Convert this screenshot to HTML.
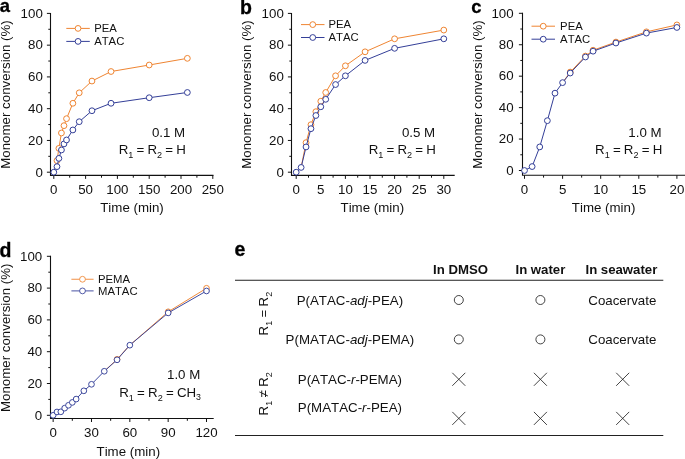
<!DOCTYPE html>
<html lang="en">
<head>
<meta charset="utf-8">
<title>Monomer conversion kinetics</title>
<style>
html,body{margin:0;padding:0;background:#fff;}
svg{display:block;font-kerning:none;font-family:"Liberation Sans",Arial,Helvetica,sans-serif;fill:#111;}
.pl{stroke:#000;stroke-width:0.3px;fill:#000}
</style>
</head>
<body>
<svg width="685" height="459" viewBox="0 0 685 459">
<rect width="685" height="459" fill="#fff" stroke="none"/>
<path d="M50.5 12.9V175.4H213.5" fill="none" stroke="#111" stroke-width="1.1"/>
<path d="M46.90 172.20H50.5M48.30 156.32H50.5M46.90 140.44H50.5M48.30 124.56H50.5M46.90 108.68H50.5M48.30 92.80H50.5M46.90 76.92H50.5M48.30 61.04H50.5M46.90 45.16H50.5M48.30 29.28H50.5M46.90 13.40H50.5M53.80 175.4v3.5M85.60 175.4v3.5M117.40 175.4v3.5M149.20 175.4v3.5M181.00 175.4v3.5M212.80 175.4v3.5M69.70 175.4v2.3M101.50 175.4v2.3M133.30 175.4v2.3M165.10 175.4v2.3M196.90 175.4v2.3" fill="none" stroke="#111" stroke-width="1"/>
<text x="42.80" y="176.50" text-anchor="end" font-size="13.3">0</text>
<text x="42.80" y="144.74" text-anchor="end" font-size="13.3">20</text>
<text x="42.80" y="112.98" text-anchor="end" font-size="13.3">40</text>
<text x="42.80" y="81.22" text-anchor="end" font-size="13.3">60</text>
<text x="42.80" y="49.46" text-anchor="end" font-size="13.3">80</text>
<text x="42.80" y="17.70" text-anchor="end" font-size="13.3">100</text>
<text x="53.80" y="193.50" text-anchor="middle" font-size="13.3">0</text>
<text x="85.60" y="193.50" text-anchor="middle" font-size="13.3">50</text>
<text x="117.40" y="193.50" text-anchor="middle" font-size="13.3">100</text>
<text x="149.20" y="193.50" text-anchor="middle" font-size="13.3">150</text>
<text x="181.00" y="193.50" text-anchor="middle" font-size="13.3">200</text>
<text x="212.80" y="193.50" text-anchor="middle" font-size="13.3">250</text>
<text x="132.00" y="211.90" text-anchor="middle" font-size="13.3">Time (min)</text>
<text transform="translate(10.00 94.50) rotate(-90)" text-anchor="middle" font-size="13.3">Monomer conversion (%)</text>
<path d="M53.80 172.20L56.98 160.61M56.98 160.61L58.89 148.38M58.89 148.38L61.43 132.98M61.43 132.98L63.98 125.67M63.98 125.67L66.52 118.68M66.52 118.68L72.88 103.28M72.88 103.28L79.24 92.80M79.24 92.80L91.96 81.05M91.96 81.05L111.04 71.52M111.04 71.52L149.20 65.01M149.20 65.01L187.36 58.34" fill="none" stroke="#EF8532" stroke-width="1.0" stroke-linecap="round"/>
<circle cx="56.98" cy="160.61" r="2.9" fill="#fff" stroke="#EF8532" stroke-width="1.0"/>
<circle cx="58.89" cy="148.38" r="2.9" fill="#fff" stroke="#EF8532" stroke-width="1.0"/>
<circle cx="61.43" cy="132.98" r="2.9" fill="#fff" stroke="#EF8532" stroke-width="1.0"/>
<circle cx="63.98" cy="125.67" r="2.9" fill="#fff" stroke="#EF8532" stroke-width="1.0"/>
<circle cx="66.52" cy="118.68" r="2.9" fill="#fff" stroke="#EF8532" stroke-width="1.0"/>
<circle cx="72.88" cy="103.28" r="2.9" fill="#fff" stroke="#EF8532" stroke-width="1.0"/>
<circle cx="79.24" cy="92.80" r="2.9" fill="#fff" stroke="#EF8532" stroke-width="1.0"/>
<circle cx="91.96" cy="81.05" r="2.9" fill="#fff" stroke="#EF8532" stroke-width="1.0"/>
<circle cx="111.04" cy="71.52" r="2.9" fill="#fff" stroke="#EF8532" stroke-width="1.0"/>
<circle cx="149.20" cy="65.01" r="2.9" fill="#fff" stroke="#EF8532" stroke-width="1.0"/>
<circle cx="187.36" cy="58.34" r="2.9" fill="#fff" stroke="#EF8532" stroke-width="1.0"/>
<path d="M53.80 172.20L56.98 166.64M56.98 166.64L58.89 158.38M58.89 158.38L61.43 149.97M61.43 149.97L63.98 143.93M63.98 143.93L66.52 139.96M66.52 139.96L72.88 129.96M72.88 129.96L79.24 121.70M79.24 121.70L91.96 110.74M91.96 110.74L111.04 103.28M111.04 103.28L149.20 97.72M149.20 97.72L187.36 92.48" fill="none" stroke="#343F98" stroke-width="1.0" stroke-linecap="round"/>
<circle cx="53.80" cy="172.20" r="2.9" fill="#fff" stroke="#343F98" stroke-width="1.0"/>
<circle cx="56.98" cy="166.64" r="2.9" fill="#fff" stroke="#343F98" stroke-width="1.0"/>
<circle cx="58.89" cy="158.38" r="2.9" fill="#fff" stroke="#343F98" stroke-width="1.0"/>
<circle cx="61.43" cy="149.97" r="2.9" fill="#fff" stroke="#343F98" stroke-width="1.0"/>
<circle cx="63.98" cy="143.93" r="2.9" fill="#fff" stroke="#343F98" stroke-width="1.0"/>
<circle cx="66.52" cy="139.96" r="2.9" fill="#fff" stroke="#343F98" stroke-width="1.0"/>
<circle cx="72.88" cy="129.96" r="2.9" fill="#fff" stroke="#343F98" stroke-width="1.0"/>
<circle cx="79.24" cy="121.70" r="2.9" fill="#fff" stroke="#343F98" stroke-width="1.0"/>
<circle cx="91.96" cy="110.74" r="2.9" fill="#fff" stroke="#343F98" stroke-width="1.0"/>
<circle cx="111.04" cy="103.28" r="2.9" fill="#fff" stroke="#343F98" stroke-width="1.0"/>
<circle cx="149.20" cy="97.72" r="2.9" fill="#fff" stroke="#343F98" stroke-width="1.0"/>
<circle cx="187.36" cy="92.48" r="2.9" fill="#fff" stroke="#343F98" stroke-width="1.0"/>
<path d="M66.3 28.4H89.8" stroke="#EF8532" stroke-width="1.0"/>
<circle cx="78.05" cy="28.4" r="2.9" fill="#fff" stroke="#EF8532" stroke-width="1.0"/>
<text x="94.2" y="32.20" font-size="11.3">PEA</text>
<path d="M66.3 41.4H89.8" stroke="#343F98" stroke-width="1.0"/>
<circle cx="78.05" cy="41.4" r="2.9" fill="#fff" stroke="#343F98" stroke-width="1.0"/>
<text x="94.2" y="45.20" font-size="11.3">ATAC</text>
<text x="185.20000000000002" y="136.6" text-anchor="end" font-size="13.3">0.1 M</text>
<text x="185.9" y="154.0" text-anchor="end" word-spacing="-0.5" font-size="13.3">R<tspan dy="3.8" font-size="9.1">1</tspan><tspan dy="-3.8"> = R</tspan><tspan dy="3.8" font-size="9.1">2</tspan><tspan dy="-3.8"> = H</tspan></text>
<text x="-0.2" y="12.2" font-size="18.4" font-weight="bold" class="pl">a</text>
<path d="M291.5 12.9V175.4H454.7" fill="none" stroke="#111" stroke-width="1.1"/>
<path d="M287.90 172.20H291.5M289.30 156.32H291.5M287.90 140.44H291.5M289.30 124.56H291.5M287.90 108.68H291.5M289.30 92.80H291.5M287.90 76.92H291.5M289.30 61.04H291.5M287.90 45.16H291.5M289.30 29.28H291.5M287.90 13.40H291.5M296.20 175.4v3.5M320.80 175.4v3.5M345.40 175.4v3.5M370.00 175.4v3.5M394.60 175.4v3.5M419.20 175.4v3.5M443.80 175.4v3.5M308.50 175.4v2.3M333.10 175.4v2.3M357.70 175.4v2.3M382.30 175.4v2.3M406.90 175.4v2.3M431.50 175.4v2.3" fill="none" stroke="#111" stroke-width="1"/>
<text x="283.80" y="176.50" text-anchor="end" font-size="13.3">0</text>
<text x="283.80" y="144.74" text-anchor="end" font-size="13.3">20</text>
<text x="283.80" y="112.98" text-anchor="end" font-size="13.3">40</text>
<text x="283.80" y="81.22" text-anchor="end" font-size="13.3">60</text>
<text x="283.80" y="49.46" text-anchor="end" font-size="13.3">80</text>
<text x="283.80" y="17.70" text-anchor="end" font-size="13.3">100</text>
<text x="296.20" y="193.50" text-anchor="middle" font-size="13.3">0</text>
<text x="320.80" y="193.50" text-anchor="middle" font-size="13.3">5</text>
<text x="345.40" y="193.50" text-anchor="middle" font-size="13.3">10</text>
<text x="370.00" y="193.50" text-anchor="middle" font-size="13.3">15</text>
<text x="394.60" y="193.50" text-anchor="middle" font-size="13.3">20</text>
<text x="419.20" y="193.50" text-anchor="middle" font-size="13.3">25</text>
<text x="443.80" y="193.50" text-anchor="middle" font-size="13.3">30</text>
<text x="372.30" y="211.90" text-anchor="middle" font-size="13.3">Time (min)</text>
<text transform="translate(250.60 94.50) rotate(-90)" text-anchor="middle" font-size="13.3">Monomer conversion (%)</text>
<path d="M301.12 167.44L306.04 142.66M306.04 142.66L310.96 124.72M310.96 124.72L315.88 111.70M315.88 111.70L320.80 101.22M320.80 101.22L325.72 92.48M325.72 92.48L335.56 75.81M335.56 75.81L345.40 65.80M345.40 65.80L365.08 51.83M365.08 51.83L394.60 38.81M394.60 38.81L443.80 30.07" fill="none" stroke="#EF8532" stroke-width="1.0" stroke-linecap="round"/>
<circle cx="306.04" cy="142.66" r="2.9" fill="#fff" stroke="#EF8532" stroke-width="1.0"/>
<circle cx="310.96" cy="124.72" r="2.9" fill="#fff" stroke="#EF8532" stroke-width="1.0"/>
<circle cx="315.88" cy="111.70" r="2.9" fill="#fff" stroke="#EF8532" stroke-width="1.0"/>
<circle cx="320.80" cy="101.22" r="2.9" fill="#fff" stroke="#EF8532" stroke-width="1.0"/>
<circle cx="325.72" cy="92.48" r="2.9" fill="#fff" stroke="#EF8532" stroke-width="1.0"/>
<circle cx="335.56" cy="75.81" r="2.9" fill="#fff" stroke="#EF8532" stroke-width="1.0"/>
<circle cx="345.40" cy="65.80" r="2.9" fill="#fff" stroke="#EF8532" stroke-width="1.0"/>
<circle cx="365.08" cy="51.83" r="2.9" fill="#fff" stroke="#EF8532" stroke-width="1.0"/>
<circle cx="394.60" cy="38.81" r="2.9" fill="#fff" stroke="#EF8532" stroke-width="1.0"/>
<circle cx="443.80" cy="30.07" r="2.9" fill="#fff" stroke="#EF8532" stroke-width="1.0"/>
<path d="M296.20 172.20L301.12 167.44M301.12 167.44L306.04 146.95M306.04 146.95L310.96 128.69M310.96 128.69L315.88 115.51M315.88 115.51L320.80 106.77M320.80 106.77L325.72 99.31M325.72 99.31L335.56 84.54M335.56 84.54L345.40 75.81M345.40 75.81L365.08 60.40M365.08 60.40L394.60 48.34M394.60 48.34L443.80 38.81" fill="none" stroke="#343F98" stroke-width="1.0" stroke-linecap="round"/>
<circle cx="296.20" cy="172.20" r="2.9" fill="#fff" stroke="#343F98" stroke-width="1.0"/>
<circle cx="301.12" cy="167.44" r="2.9" fill="#fff" stroke="#343F98" stroke-width="1.0"/>
<circle cx="306.04" cy="146.95" r="2.9" fill="#fff" stroke="#343F98" stroke-width="1.0"/>
<circle cx="310.96" cy="128.69" r="2.9" fill="#fff" stroke="#343F98" stroke-width="1.0"/>
<circle cx="315.88" cy="115.51" r="2.9" fill="#fff" stroke="#343F98" stroke-width="1.0"/>
<circle cx="320.80" cy="106.77" r="2.9" fill="#fff" stroke="#343F98" stroke-width="1.0"/>
<circle cx="325.72" cy="99.31" r="2.9" fill="#fff" stroke="#343F98" stroke-width="1.0"/>
<circle cx="335.56" cy="84.54" r="2.9" fill="#fff" stroke="#343F98" stroke-width="1.0"/>
<circle cx="345.40" cy="75.81" r="2.9" fill="#fff" stroke="#343F98" stroke-width="1.0"/>
<circle cx="365.08" cy="60.40" r="2.9" fill="#fff" stroke="#343F98" stroke-width="1.0"/>
<circle cx="394.60" cy="48.34" r="2.9" fill="#fff" stroke="#343F98" stroke-width="1.0"/>
<circle cx="443.80" cy="38.81" r="2.9" fill="#fff" stroke="#343F98" stroke-width="1.0"/>
<path d="M301 24.6H324.5" stroke="#EF8532" stroke-width="1.0"/>
<circle cx="312.75" cy="24.6" r="2.9" fill="#fff" stroke="#EF8532" stroke-width="1.0"/>
<text x="328.5" y="28.40" font-size="11.3">PEA</text>
<path d="M301 37.5H324.5" stroke="#343F98" stroke-width="1.0"/>
<circle cx="312.75" cy="37.5" r="2.9" fill="#fff" stroke="#343F98" stroke-width="1.0"/>
<text x="328.5" y="41.30" font-size="11.3">ATAC</text>
<text x="435.2" y="136.6" text-anchor="end" font-size="13.3">0.5 M</text>
<text x="435.9" y="154.0" text-anchor="end" word-spacing="-0.5" font-size="13.3">R<tspan dy="3.8" font-size="9.1">1</tspan><tspan dy="-3.8"> = R</tspan><tspan dy="3.8" font-size="9.1">2</tspan><tspan dy="-3.8"> = H</tspan></text>
<text x="240.1" y="13.8" font-size="19.5" font-weight="bold" class="pl">b</text>
<path d="M522.5 12.8V175.3H686.0" fill="none" stroke="#111" stroke-width="1.1"/>
<path d="M518.90 170.50H522.5M520.30 154.78H522.5M518.90 139.06H522.5M520.30 123.34H522.5M518.90 107.62H522.5M520.30 91.90H522.5M518.90 76.18H522.5M520.30 60.46H522.5M518.90 44.74H522.5M520.30 29.02H522.5M518.90 13.30H522.5M524.50 175.3v3.5M562.60 175.3v3.5M600.70 175.3v3.5M638.80 175.3v3.5M676.90 175.3v3.5M543.55 175.3v2.3M581.65 175.3v2.3M619.75 175.3v2.3M657.85 175.3v2.3" fill="none" stroke="#111" stroke-width="1"/>
<text x="513.60" y="174.80" text-anchor="end" font-size="13.3">0</text>
<text x="513.60" y="143.36" text-anchor="end" font-size="13.3">20</text>
<text x="513.60" y="111.92" text-anchor="end" font-size="13.3">40</text>
<text x="513.60" y="80.48" text-anchor="end" font-size="13.3">60</text>
<text x="513.60" y="49.04" text-anchor="end" font-size="13.3">80</text>
<text x="513.60" y="17.60" text-anchor="end" font-size="13.3">100</text>
<text x="524.50" y="193.50" text-anchor="middle" font-size="13.3">0</text>
<text x="562.60" y="193.50" text-anchor="middle" font-size="13.3">5</text>
<text x="600.70" y="193.50" text-anchor="middle" font-size="13.3">10</text>
<text x="638.80" y="193.50" text-anchor="middle" font-size="13.3">15</text>
<text x="676.90" y="193.50" text-anchor="middle" font-size="13.3">20</text>
<text x="603.60" y="211.90" text-anchor="middle" font-size="13.3">Time (min)</text>
<text transform="translate(481.70 94.50) rotate(-90)" text-anchor="middle" font-size="13.3">Monomer conversion (%)</text>
<path d="M562.60 82.63L570.22 72.09M570.22 72.09L585.46 56.06M585.46 56.06L593.08 50.24M593.08 50.24L615.94 42.07M615.94 42.07L646.42 31.85M646.42 31.85L676.90 24.93" fill="none" stroke="#EF8532" stroke-width="1.0" stroke-linecap="round"/>
<circle cx="570.22" cy="72.09" r="2.9" fill="#fff" stroke="#EF8532" stroke-width="1.0"/>
<circle cx="585.46" cy="56.06" r="2.9" fill="#fff" stroke="#EF8532" stroke-width="1.0"/>
<circle cx="593.08" cy="50.24" r="2.9" fill="#fff" stroke="#EF8532" stroke-width="1.0"/>
<circle cx="615.94" cy="42.07" r="2.9" fill="#fff" stroke="#EF8532" stroke-width="1.0"/>
<circle cx="646.42" cy="31.85" r="2.9" fill="#fff" stroke="#EF8532" stroke-width="1.0"/>
<circle cx="676.90" cy="24.93" r="2.9" fill="#fff" stroke="#EF8532" stroke-width="1.0"/>
<path d="M524.50 170.50L532.12 166.57M532.12 166.57L539.74 146.92M539.74 146.92L547.36 120.67M547.36 120.67L554.98 93.16M554.98 93.16L562.60 82.63M562.60 82.63L570.22 73.04M570.22 73.04L585.46 57.00M585.46 57.00L593.08 51.19M593.08 51.19L615.94 43.01M615.94 43.01L646.42 33.11M646.42 33.11L676.90 27.45" fill="none" stroke="#343F98" stroke-width="1.0" stroke-linecap="round"/>
<circle cx="524.50" cy="170.50" r="2.9" fill="#fff" stroke="#343F98" stroke-width="1.0"/>
<circle cx="532.12" cy="166.57" r="2.9" fill="#fff" stroke="#343F98" stroke-width="1.0"/>
<circle cx="539.74" cy="146.92" r="2.9" fill="#fff" stroke="#343F98" stroke-width="1.0"/>
<circle cx="547.36" cy="120.67" r="2.9" fill="#fff" stroke="#343F98" stroke-width="1.0"/>
<circle cx="554.98" cy="93.16" r="2.9" fill="#fff" stroke="#343F98" stroke-width="1.0"/>
<circle cx="562.60" cy="82.63" r="2.9" fill="#fff" stroke="#343F98" stroke-width="1.0"/>
<circle cx="570.22" cy="73.04" r="2.9" fill="#fff" stroke="#343F98" stroke-width="1.0"/>
<circle cx="585.46" cy="57.00" r="2.9" fill="#fff" stroke="#343F98" stroke-width="1.0"/>
<circle cx="593.08" cy="51.19" r="2.9" fill="#fff" stroke="#343F98" stroke-width="1.0"/>
<circle cx="615.94" cy="43.01" r="2.9" fill="#fff" stroke="#343F98" stroke-width="1.0"/>
<circle cx="646.42" cy="33.11" r="2.9" fill="#fff" stroke="#343F98" stroke-width="1.0"/>
<circle cx="676.90" cy="27.45" r="2.9" fill="#fff" stroke="#343F98" stroke-width="1.0"/>
<path d="M531.5 26.2H555" stroke="#EF8532" stroke-width="1.0"/>
<circle cx="543.25" cy="26.2" r="2.9" fill="#fff" stroke="#EF8532" stroke-width="1.0"/>
<text x="560.1" y="30.00" font-size="11.3">PEA</text>
<path d="M531.5 39.2H555" stroke="#343F98" stroke-width="1.0"/>
<circle cx="543.25" cy="39.2" r="2.9" fill="#fff" stroke="#343F98" stroke-width="1.0"/>
<text x="560.1" y="43.00" font-size="11.3">ATAC</text>
<text x="661.5999999999999" y="136.6" text-anchor="end" font-size="13.3">1.0 M</text>
<text x="662.3" y="153.8" text-anchor="end" word-spacing="-0.5" font-size="13.3">R<tspan dy="3.8" font-size="9.1">1</tspan><tspan dy="-3.8"> = R</tspan><tspan dy="3.8" font-size="9.1">2</tspan><tspan dy="-3.8"> = H</tspan></text>
<text x="471.3" y="13.1" font-size="18.4" font-weight="bold" class="pl">c</text>
<path d="M50.5 255.8V418.5H213.7" fill="none" stroke="#111" stroke-width="1.1"/>
<path d="M46.90 415.30H50.5M48.30 399.40H50.5M46.90 383.50H50.5M48.30 367.60H50.5M46.90 351.70H50.5M48.30 335.80H50.5M46.90 319.90H50.5M48.30 304.00H50.5M46.90 288.10H50.5M48.30 272.20H50.5M46.90 256.30H50.5M53.15 418.5v3.5M91.49 418.5v3.5M129.83 418.5v3.5M168.17 418.5v3.5M206.51 418.5v3.5M72.32 418.5v2.3M110.66 418.5v2.3M149.00 418.5v2.3M187.34 418.5v2.3" fill="none" stroke="#111" stroke-width="1"/>
<text x="42.20" y="419.60" text-anchor="end" font-size="13.3">0</text>
<text x="42.20" y="387.80" text-anchor="end" font-size="13.3">20</text>
<text x="42.20" y="356.00" text-anchor="end" font-size="13.3">40</text>
<text x="42.20" y="324.20" text-anchor="end" font-size="13.3">60</text>
<text x="42.20" y="292.40" text-anchor="end" font-size="13.3">80</text>
<text x="42.20" y="260.60" text-anchor="end" font-size="13.3">100</text>
<text x="53.15" y="436.70" text-anchor="middle" font-size="13.3">0</text>
<text x="91.49" y="436.70" text-anchor="middle" font-size="13.3">30</text>
<text x="129.83" y="436.70" text-anchor="middle" font-size="13.3">60</text>
<text x="168.17" y="436.70" text-anchor="middle" font-size="13.3">90</text>
<text x="206.51" y="436.70" text-anchor="middle" font-size="13.3">120</text>
<text x="128.30" y="455.60" text-anchor="middle" font-size="13.3">Time (min)</text>
<text transform="translate(10.00 337.80) rotate(-90)" text-anchor="middle" font-size="13.3">Monomer conversion (%)</text>
<path d="M104.27 371.26L117.05 359.33M117.05 359.33L129.83 345.18M129.83 345.18L168.17 311.79M168.17 311.79L206.51 288.26" fill="none" stroke="#EF8532" stroke-width="0.95" stroke-linecap="round"/>
<circle cx="117.05" cy="359.33" r="2.85" fill="#fff" stroke="#EF8532" stroke-width="0.95"/>
<circle cx="168.17" cy="311.79" r="2.85" fill="#fff" stroke="#EF8532" stroke-width="0.95"/>
<circle cx="206.51" cy="288.26" r="2.85" fill="#fff" stroke="#EF8532" stroke-width="0.95"/>
<path d="M53.15 415.30L56.98 411.96M56.98 411.96L60.82 411.80M60.82 411.80L64.65 408.15M64.65 408.15L68.49 405.28M68.49 405.28L72.32 402.42M72.32 402.42L76.15 399.08M76.15 399.08L83.82 390.81M83.82 390.81L91.49 384.30M91.49 384.30L104.27 371.26M104.27 371.26L117.05 359.81M117.05 359.81L129.83 345.18M129.83 345.18L168.17 312.90M168.17 312.90L206.51 290.96" fill="none" stroke="#343F98" stroke-width="0.95" stroke-linecap="round"/>
<circle cx="53.15" cy="415.30" r="2.85" fill="#fff" stroke="#343F98" stroke-width="0.95"/>
<circle cx="56.98" cy="411.96" r="2.85" fill="#fff" stroke="#343F98" stroke-width="0.95"/>
<circle cx="60.82" cy="411.80" r="2.85" fill="#fff" stroke="#343F98" stroke-width="0.95"/>
<circle cx="64.65" cy="408.15" r="2.85" fill="#fff" stroke="#343F98" stroke-width="0.95"/>
<circle cx="68.49" cy="405.28" r="2.85" fill="#fff" stroke="#343F98" stroke-width="0.95"/>
<circle cx="72.32" cy="402.42" r="2.85" fill="#fff" stroke="#343F98" stroke-width="0.95"/>
<circle cx="76.15" cy="399.08" r="2.85" fill="#fff" stroke="#343F98" stroke-width="0.95"/>
<circle cx="83.82" cy="390.81" r="2.85" fill="#fff" stroke="#343F98" stroke-width="0.95"/>
<circle cx="91.49" cy="384.30" r="2.85" fill="#fff" stroke="#343F98" stroke-width="0.95"/>
<circle cx="104.27" cy="371.26" r="2.85" fill="#fff" stroke="#343F98" stroke-width="0.95"/>
<circle cx="117.05" cy="359.81" r="2.85" fill="#fff" stroke="#343F98" stroke-width="0.95"/>
<circle cx="129.83" cy="345.18" r="2.85" fill="#fff" stroke="#343F98" stroke-width="0.95"/>
<circle cx="168.17" cy="312.90" r="2.85" fill="#fff" stroke="#343F98" stroke-width="0.95"/>
<circle cx="206.51" cy="290.96" r="2.85" fill="#fff" stroke="#343F98" stroke-width="0.95"/>
<path d="M71.4 279.25H93.6" stroke="#EF8532" stroke-width="0.9"/>
<circle cx="82.50" cy="279.25" r="2.9" fill="#fff" stroke="#EF8532" stroke-width="0.85"/>
<text x="98.0" y="283.05" font-size="11.3">PEMA</text>
<path d="M71.4 290.9H93.6" stroke="#343F98" stroke-width="0.9"/>
<circle cx="82.50" cy="290.9" r="2.9" fill="#fff" stroke="#343F98" stroke-width="0.85"/>
<text x="98.0" y="294.70" font-size="11.3">MATAC</text>
<text x="200.3" y="379" text-anchor="end" font-size="13.3">1.0 M</text>
<text x="201" y="397.3" text-anchor="end" word-spacing="-0.5" font-size="13.3">R<tspan dy="3.8" font-size="9.1">1</tspan><tspan dy="-3.8"> = R</tspan><tspan dy="3.8" font-size="9.1">2</tspan><tspan dy="-3.8"> = CH<tspan dy="3" font-size="8.8">3</tspan></tspan></text>
<text x="-0.5" y="256.5" font-size="19.5" font-weight="bold" class="pl">d</text>
<text x="234.4" y="256.4" font-size="19.5" font-weight="bold" class="pl">e</text>
<path d="M235 280.25H663.3M235 435.5H663.3" stroke="#222" stroke-width="1"/>
<text x="460.5" y="274" text-anchor="middle" font-size="13.2" font-weight="bold">In DMSO</text>
<text x="540.4" y="274" text-anchor="middle" font-size="13.2" font-weight="bold">In water</text>
<text x="621.4" y="274" text-anchor="middle" font-size="13.2" font-weight="bold">In seawater</text>
<text x="349.9" y="304.6" text-anchor="middle" font-size="13.3">P(ATAC-<tspan font-style="italic">adj</tspan>-PEA)</text>
<text x="349.9" y="344.2" text-anchor="middle" font-size="13.3">P(MATAC-<tspan font-style="italic">adj</tspan>-PEMA)</text>
<text x="349.9" y="383.9" text-anchor="middle" font-size="13.3">P(ATAC-<tspan font-style="italic">r</tspan>-PEMA)</text>
<text x="349.9" y="411.5" text-anchor="middle" font-size="13.3">P(MATAC-<tspan font-style="italic">r</tspan>-PEA)</text>
<circle cx="458.8" cy="300.0" r="4.5" fill="none" stroke="#222" stroke-width="0.85"/>
<circle cx="540.4" cy="300.0" r="4.5" fill="none" stroke="#222" stroke-width="0.85"/>
<text x="622.3" y="304.5" text-anchor="middle" font-size="13.3">Coacervate</text>
<circle cx="458.8" cy="339.4" r="4.5" fill="none" stroke="#222" stroke-width="0.85"/>
<circle cx="540.4" cy="339.4" r="4.5" fill="none" stroke="#222" stroke-width="0.85"/>
<text x="622.3" y="343.9" text-anchor="middle" font-size="13.3">Coacervate</text>
<path d="M452.3 372.8l13 13M465.3 372.8l-13 13" stroke="#222" stroke-width="0.85" fill="none"/>
<path d="M533.9 372.8l13 13M546.9 372.8l-13 13" stroke="#222" stroke-width="0.85" fill="none"/>
<path d="M616.2 372.8l13 13M629.2 372.8l-13 13" stroke="#222" stroke-width="0.85" fill="none"/>
<path d="M452.3 411.9l13 13M465.3 411.9l-13 13" stroke="#222" stroke-width="0.85" fill="none"/>
<path d="M533.9 411.9l13 13M546.9 411.9l-13 13" stroke="#222" stroke-width="0.85" fill="none"/>
<path d="M616.2 411.9l13 13M629.2 411.9l-13 13" stroke="#222" stroke-width="0.85" fill="none"/>
<text transform="translate(268.2 313.6) rotate(-90)" text-anchor="middle" word-spacing="-0.4" font-size="13.3">R<tspan dy="4" font-size="9.1">1</tspan><tspan dy="-4"> = R</tspan><tspan dy="4" font-size="9.1">2</tspan></text>
<text transform="translate(268.2 393.8) rotate(-90)" text-anchor="middle" word-spacing="-0.4" font-size="13.3">R<tspan dy="4" font-size="9.1">1</tspan><tspan dy="-4"> ≠ R</tspan><tspan dy="4" font-size="9.1">2</tspan></text>
</svg>
</body>
</html>
